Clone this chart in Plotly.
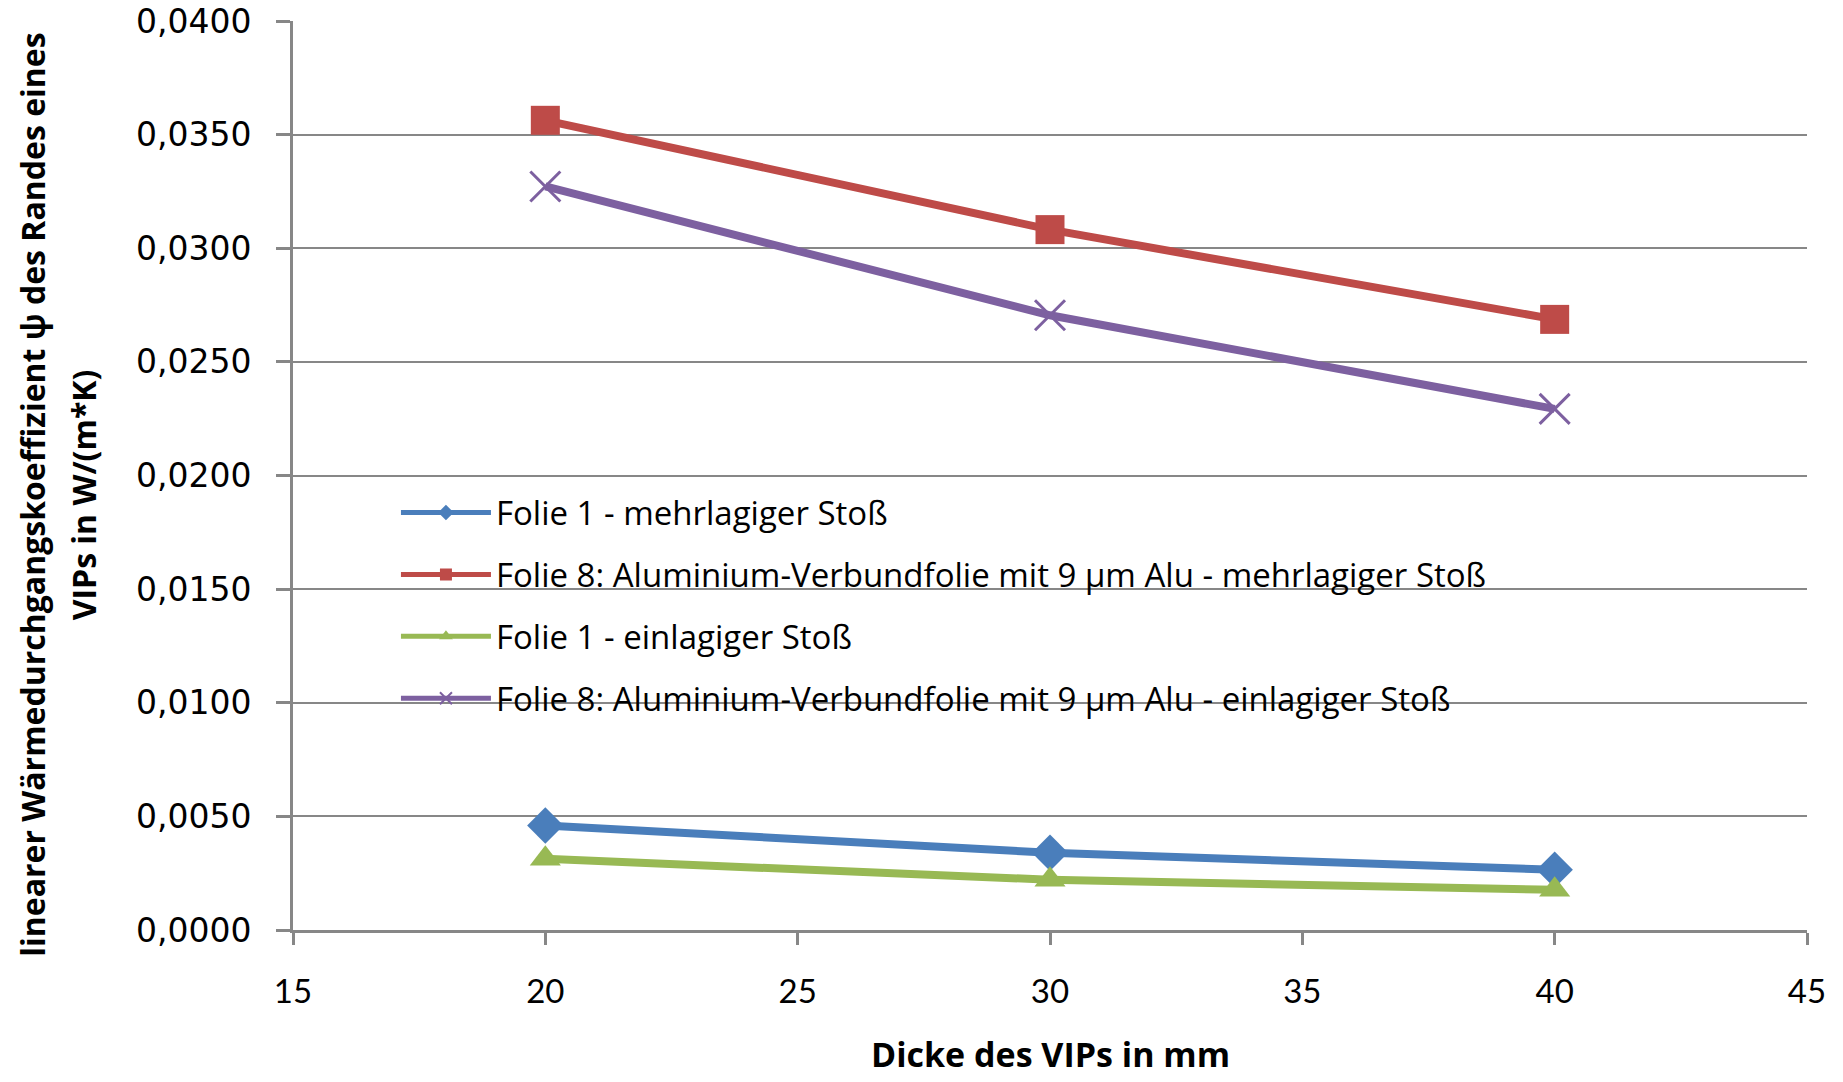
import plotly.graph_objects as go

thickness_mm = [20, 30, 40]
folie1_mehrlagig = [0.00460, 0.00340, 0.00265]
folie8_mehrlagig = [0.03563, 0.03082, 0.02687]
folie1_einlagig = [0.00313, 0.00221, 0.00177]
folie8_einlagig = [0.03272, 0.02705, 0.02293]

names = [
    "Folie 1 - mehrlagiger Stoß",
    "Folie 8: Aluminium-Verbundfolie mit 9 µm Alu - mehrlagiger Stoß",
    "Folie 1 - einlagiger Stoß",
    "Folie 8: Aluminium-Verbundfolie mit 9 µm Alu - einlagiger Stoß",
]
series = [folie1_mehrlagig, folie8_mehrlagig, folie1_einlagig, folie8_einlagig]
colors = ["#4A7EBB", "#BE4B48", "#98B954", "#7D60A0"]
symbols = ["diamond", "square", "triangle-up", "x-thin-open"]
sizes = [28, 29, 27, 30]

y_title_lines = [
    "linearer Wärmedurchgangskoeffizient ψ des Randes eines",
    "VIPs in W/(m*K)",
]
x_title = "Dicke des VIPs in mm"

fig = go.Figure()
for i, (nm, ys, c, s, sz) in enumerate(zip(names, series, colors, symbols, sizes)):
    fig.add_trace(go.Scatter(
        x=thickness_mm, y=ys, name=nm, mode="lines+markers",
        legendgroup=f"g{i}",
        line=dict(color=c, width=8),
        marker=dict(symbol=s, size=sz, color=c,
                    line=dict(color=c, width=3 if s == "x-thin-open" else 0)),
    ))

grid = "#878787"
fig.update_layout(
    width=1843, height=1082,
    margin=dict(l=293, r=36, t=21, b=152, autoexpand=False),
    paper_bgcolor="white", plot_bgcolor="white",
    separators=",.",
    showlegend=True,
    legend=dict(
        x=0.068, y=0.49, xanchor="left", yanchor="top",
        bgcolor="rgba(0,0,0,0)", borderwidth=0,
        font=dict(family="Open Sans", size=33, color="#000000"),
        itemwidth=90, tracegroupgap=16, traceorder="grouped",
        itemsizing="constant",
    ),
    xaxis=dict(
        range=[15, 45], dtick=5, tick0=15,
        showgrid=False, zeroline=False, automargin=False,
        showline=True, linecolor=grid, linewidth=3,
        ticks="outside", ticklen=12, tickwidth=3, tickcolor=grid,
        ticklabelstandoff=18,
        tickfont=dict(family="Lato", size=33, color="#000000"),
    ),
    yaxis=dict(
        range=[0, 0.04], dtick=0.005, tickformat=".4f",
        showgrid=True, gridcolor=grid, gridwidth=2,
        zeroline=False, automargin=False,
        showline=True, linecolor=grid, linewidth=3,
        ticks="outside", ticklen=14, tickwidth=3, tickcolor=grid,
        ticklabelstandoff=18,
        tickfont=dict(family="DejaVu Sans", size=33, color="#000000"),
    ),
)

for line_text, xpos in zip(y_title_lines, [-0.1726, -0.1385]):
    fig.add_annotation(
        text=f"<b>{line_text}</b>", textangle=-90,
        xref="paper", yref="paper", x=xpos, y=0.4785,
        xanchor="center", yanchor="middle", showarrow=False,
        font=dict(family="Open Sans", size=32, color="#000000"),
    )

fig.add_annotation(
    text=f"<b>{x_title}</b>",
    xref="paper", yref="paper", x=0.5, y=-0.1635,
    xanchor="center", yanchor="bottom", showarrow=False,
    font=dict(family="Open Sans", size=34, color="#000000"),
)

fig.write_html("out.html")
